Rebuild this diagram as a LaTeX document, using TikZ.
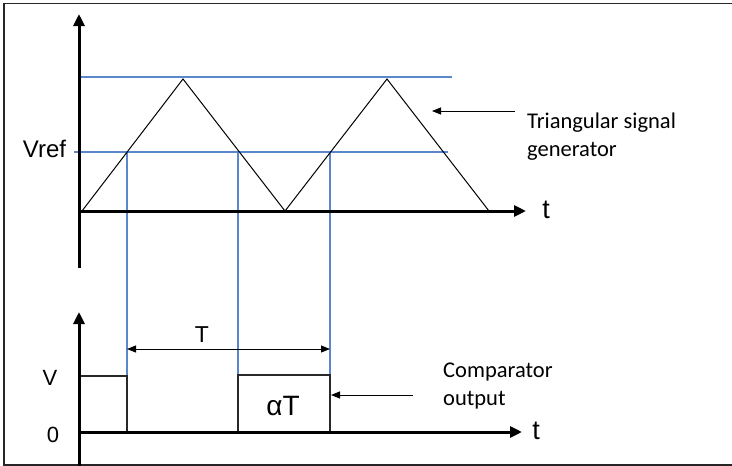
\documentclass[tikz,border=0pt]{standalone}
\usepackage{fontspec}
\setmainfont{Liberation Sans}
\newfontfamily\calfont{Carlito}
\usetikzlibrary{arrows.meta}
\definecolor{guide}{RGB}{91,135,205}
\definecolor{wave}{RGB}{40,40,40}
\begin{document}
\begin{tikzpicture}[x=1pt,y=-1pt,
  frame/.style={line width=1.2pt,draw=black!85},
  axis/.style={line width=3pt,-{Triangle[length=12pt,width=11pt]}},
  guideline/.style={line width=1.2pt,draw=guide},
  trace/.style={line width=1pt,draw=black},
  pulse/.style={line width=1.1pt,draw=wave},
  pointer/.style={line width=0.9pt,-{Triangle[length=9pt,width=7pt]}},
  span/.style={line width=0.9pt,{Triangle[length=9pt,width=7pt]}-{Triangle[length=9pt,width=7pt]}},
  lbl/.style={inner sep=0pt,font=\fontsize{22}{26}\selectfont},
  note/.style={inner sep=0pt,align=left,anchor=west,font=\calfont\fontsize{22.5}{28}\selectfont}]
\useasboundingbox (0,0) rectangle (732,466);
\draw[frame] (732,3.5) -- (4,3.5) -- (4,465) -- (732,465);

% coordinates
\coordinate (y1b) at (79,268); \coordinate (y1t) at (79,14);
\coordinate (x1l) at (79,211); \coordinate (x1r) at (526,211);
\coordinate (y2b) at (79,466); \coordinate (y2t) at (79,312);
\coordinate (x2l) at (79,432); \coordinate (x2r) at (522,432);

\coordinate (p0) at (82,211); \coordinate (p1) at (183,79);
\coordinate (p2) at (285,211); \coordinate (p3) at (387,79);
\coordinate (p4) at (489,211);

\coordinate (ga) at (78,77); \coordinate (gb) at (452,77);
\coordinate (va) at (74,152); \coordinate (vb) at (448,152);
\coordinate (c1) at (127,152); \coordinate (c2) at (238,152); \coordinate (c3) at (330,152);
\coordinate (d1) at (127,376); \coordinate (d2) at (238,375); \coordinate (d3) at (330,375);

\coordinate (s0) at (79,376); \coordinate (s1) at (127,432);
\coordinate (s2) at (238,432); \coordinate (s3) at (330,432);

\coordinate (ta) at (127,349); \coordinate (tb) at (330,349);
\coordinate (a1s) at (515,111); \coordinate (a1e) at (432,111);
\coordinate (a2s) at (413,395); \coordinate (a2e) at (331,395);

% guide lines
\draw[guideline] (ga) -- (gb);
\draw[guideline] (va) -- (vb);
\draw[guideline] (c1) -- (d1);
\draw[guideline] (c2) -- (d2);
\draw[guideline] (c3) -- (d3);

% triangle signal
\draw[trace,line join=miter] (p0) -- (p1) -- (p2) -- (p3) -- (p4);

% comparator output
\draw[pulse] (s0) -- (d1) -- (s1);
\draw[pulse] (s2) -- (d2) -- (d3) -- (s3);

% axes
\draw[axis] (y1b) -- (y1t);
\draw[axis] (x1l) -- (x1r);
\draw[axis] (y2b) -- (y2t);
\draw[axis] (x2l) -- (x2r);

% span T
\draw[span] (ta) -- (tb);

% pointers
\draw[pointer] (a1s) -- (a1e);
\draw[pointer] (a2s) -- (a2e);

% labels
\node[lbl,font=\fontsize{24}{26}\selectfont] (vref) at (44.5,149) {Vref};
\node[lbl,font=\fontsize{27}{30}\selectfont] (t1) at (546,210) {t};
\node[lbl,font=\fontsize{27}{30}\selectfont] (t2) at (536,431) {t};
\node[lbl] (vlab) at (50,378) {V};
\node[lbl] (zero) at (53,435) {0};
\node[lbl,font=\fontsize{23}{26}\selectfont] (tlab) at (202,335) {T};
\node[lbl,font=\fontsize{28}{30}\selectfont] (atlab) at (283,406) {αT};
\node[note] (tri) at (527,137) {Triangular signal\\generator};
\node[note] (comp) at (443,386) {Comparator\\output};
\end{tikzpicture}
\end{document}
